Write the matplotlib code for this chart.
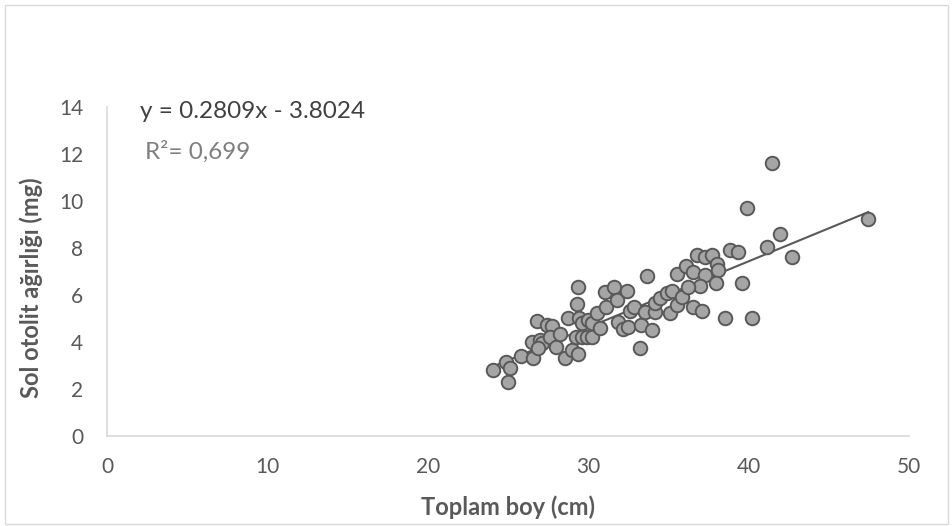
import matplotlib
matplotlib.use("Agg")
import matplotlib.pyplot as plt
import numpy as np
from matplotlib.patches import Rectangle

# values
toplam_boy = [
    24.08, 24.88, 25.12, 24.98, 25.79, 26.58, 26.48, 26.79, 27.43, 27.72,
    27.00, 27.10, 26.89, 27.62, 27.99, 28.27, 28.57, 28.97, 29.36, 29.38,
    29.28, 28.77, 29.43, 29.60, 29.24, 29.60, 29.94, 30.22, 30.00, 30.22,
    30.53, 30.74, 31.08, 31.05, 31.61, 31.78, 32.40, 31.88, 32.19, 32.50,
    32.61, 32.86, 33.29, 33.20, 33.65, 33.54, 34.16, 33.96, 34.16, 34.48,
    35.10, 34.89, 35.21, 35.52, 35.83, 35.52, 36.07, 36.55, 37.28, 36.55,
    37.08, 36.97, 36.24, 36.76, 37.28, 37.70, 38.01, 38.11, 37.97, 38.50,
    38.84, 39.31, 39.57, 39.88, 40.19, 41.15, 41.48, 41.96, 42.69, 47.46,
]
sol_otolit = [
    2.81, 3.16, 2.91, 2.31, 3.42, 3.30, 4.01, 4.91, 4.72, 4.70,
    4.09, 3.94, 3.73, 4.21, 3.79, 4.32, 3.31, 3.66, 3.51, 6.33,
    5.62, 5.02, 5.01, 4.82, 4.23, 4.23, 4.23, 4.23, 4.94, 4.80,
    5.22, 4.58, 5.50, 6.13, 6.33, 5.80, 6.19, 4.86, 4.56, 4.65,
    5.32, 5.50, 4.72, 3.73, 6.82, 5.26, 5.26, 4.51, 5.65, 5.86,
    5.22, 6.07, 6.16, 5.57, 5.93, 6.89, 7.23, 6.99, 6.85, 5.49,
    5.32, 6.38, 6.35, 7.70, 7.63, 7.70, 7.32, 7.06, 6.50, 5.01,
    7.91, 7.81, 6.52, 9.70, 5.01, 8.04, 11.60, 8.60, 7.63, 9.22,
]
egim, kesim = 0.2809, -3.8024
x_ticks = [0, 10, 20, 30, 40, 50]
y_ticks = [0, 2, 4, 6, 8, 10, 12, 14]

plt.rcParams['font.family'] = ['Lato', 'DejaVu Sans']

fig = plt.figure(figsize=(9.52, 5.26), dpi=100)
ax = fig.add_axes([107 / 952, 1 - 436 / 526, 802 / 952, 329 / 526])

ax.scatter(toplam_boy, sol_otolit, s=95, c='#A5A5A5', edgecolors='#595959',
           linewidths=1.4, zorder=3)

xs = np.array([min(toplam_boy), max(toplam_boy)])
ax.plot(xs, egim * xs + kesim, color='#595959', lw=1.5, zorder=2)

ax.set_xlim(0, 50)
ax.set_ylim(0, 14)
ax.set_xticks(x_ticks)
ax.set_yticks(y_ticks)
ax.tick_params(length=0, labelsize=15, labelcolor='#595959')
ax.tick_params(axis='y', pad=17)
ax.tick_params(axis='x', pad=15)
for s in ['top', 'right']:
    ax.spines[s].set_visible(False)
for s in ['left', 'bottom']:
    ax.spines[s].set_color('#D9D9D9')
    ax.spines[s].set_linewidth(1.2)

ax.set_xlabel('Toplam boy (cm)', fontsize=17, fontweight='bold', color='#595959')
ax.xaxis.set_label_coords(0.5, -0.18)
ax.set_ylabel('Sol otolit ağırlığı (mg)', fontsize=17, fontweight='bold', color='#595959')
ax.yaxis.set_label_coords(-0.08, 0.45)

fig.text(140 / 952, 1 - 112 / 526, 'y = 0.2809x - 3.8024', fontsize=17.5,
         color='#404040', va='center', ha='left')
fig.text(145 / 952, 1 - 152 / 526, 'R²= 0,699', fontsize=17.5,
         color='#7F7F7F', va='center', ha='left')

fig.patches.append(Rectangle((5 / 952, 2 / 526), 943 / 952, 519 / 526,
                             transform=fig.transFigure, fill=False,
                             edgecolor='#D9D9D9', lw=1))

fig.savefig('out.png', dpi=100)
